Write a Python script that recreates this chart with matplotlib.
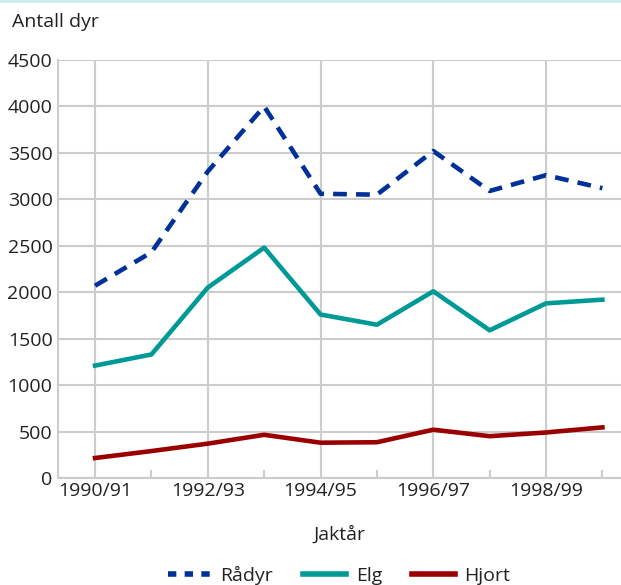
import matplotlib.pyplot as plt
from matplotlib.ticker import MultipleLocator
from matplotlib.lines import Line2D

plt.rcParams['font.family'] = ['Open Sans', 'DejaVu Sans']

years = ["1990/91", "1991/92", "1992/93", "1993/94", "1994/95",
         "1995/96", "1996/97", "1997/98", "1998/99", "1999/00"]
radyr = [2070, 2430, 3300, 4000, 3060, 3050, 3520, 3090, 3260, 3120]
elg = [1210, 1330, 2050, 2480, 1760, 1650, 2010, 1590, 1880, 1920]
hjort = [215, 290, 370, 465, 380, 385, 520, 450, 490, 545]

c_radyr = "#00309a"
c_elg = "#009a96"
c_hjort = "#9b0000"
grey = "#cccccc"
txt = "#222222"

fig = plt.figure(figsize=(6.21, 5.85), dpi=100)
ax = fig.add_axes([58/621, 107/585, 1 - 58/621, 418/585])

x = list(range(len(years)))
ax.plot(x, radyr, color=c_radyr, lw=3.3, dashes=(3, 2), dash_capstyle='butt', label="Rådyr")
ax.plot(x, elg, color=c_elg, lw=3.3, label="Elg")
ax.plot(x, hjort, color=c_hjort, lw=3.3, label="Hjort")

ax.set_xlim(-0.657, 9.33)
ax.set_ylim(0, 4500)
ax.yaxis.set_major_locator(MultipleLocator(500))
ax.set_xticks(x[::2])
ax.set_xticklabels(years[::2])
ax.set_xticks(x[1::2], minor=True)

ax.grid(True, which='major', color=grey, lw=1.5)
ax.set_axisbelow(True)
for s in ['top', 'right']:
    ax.spines[s].set_visible(False)
for s in ['left', 'bottom']:
    ax.spines[s].set_color(grey)
    ax.spines[s].set_linewidth(1.5)

ax.tick_params(axis='both', which='major', length=0, labelsize=14, colors=txt, pad=4)
ax.tick_params(axis='x', which='minor', direction='in', length=6, width=1.5, color=grey)
ax.tick_params(axis='x', which='major', pad=3)

ax.set_xlabel("Jaktår", fontsize=14, color=txt, labelpad=18)
fig.text(12/621, 1 - 22/585, "Antall dyr", fontsize=14, color=txt, va='center', ha='left')

# thin cyan rule at the top of the figure
fig.add_artist(Line2D([0, 1], [1 - 1/585, 1 - 1/585], color="#c8ecec", lw=2, transform=fig.transFigure))

handles = [Line2D([], [], color=c_radyr, lw=4, dashes=(1.5, 1.5), dash_capstyle='butt'),
           Line2D([], [], color=c_elg, lw=4),
           Line2D([], [], color=c_hjort, lw=4)]
fig.legend(handles, ["Rådyr", "Elg", "Hjort"], loc='center', bbox_to_anchor=(0.546, 10/585),
           ncol=3, frameon=False, fontsize=14, handlelength=2.2, columnspacing=1.55,
           handletextpad=0.5, labelcolor=txt)

fig.savefig("out.png", dpi=100)
